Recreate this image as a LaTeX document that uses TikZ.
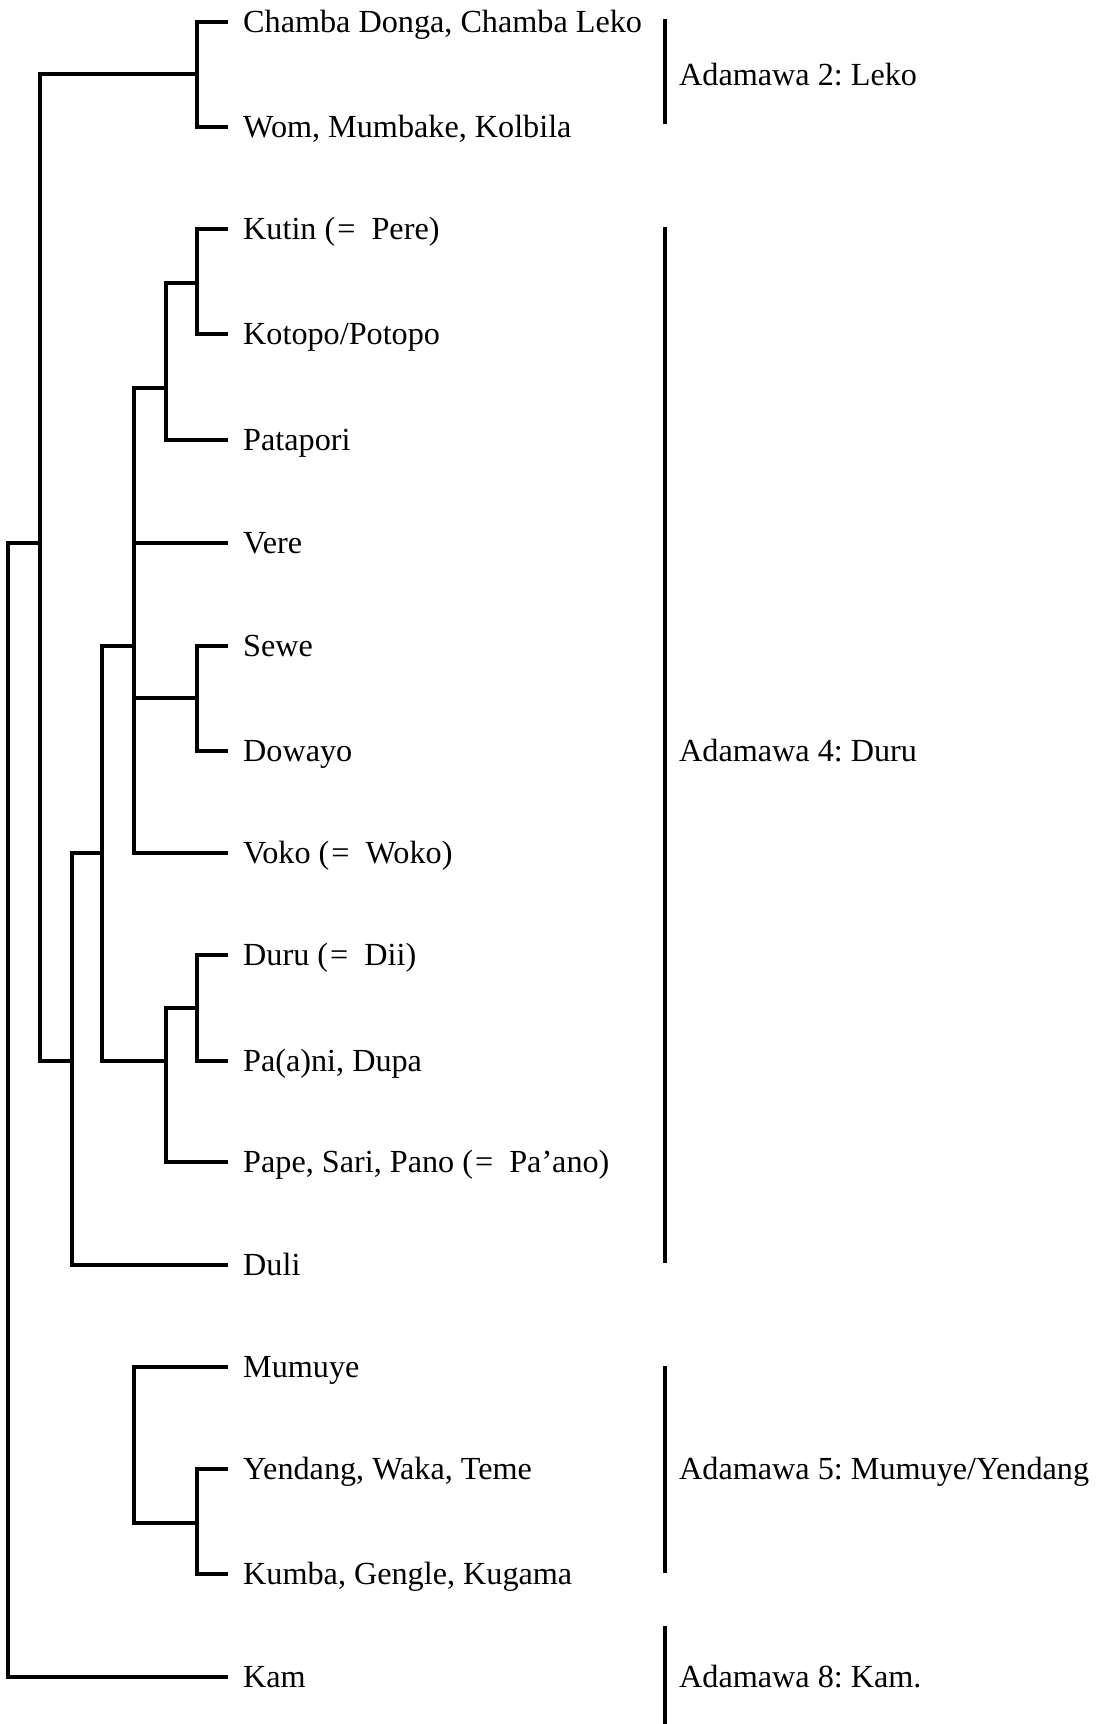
\documentclass[tikz,border=0pt]{standalone}
\usepackage{fontspec}
\setmainfont{Liberation Serif}
\frenchspacing

\begin{document}
\begin{tikzpicture}[
    x=1pt, y=-1pt,
    font=\fontsize{32.2}{38}\selectfont,
    leaf/.style={anchor=west, inner xsep=15pt, inner ysep=0pt, text height=29pt, text depth=7.7pt},
    grouplabel/.style={anchor=west, inner xsep=14pt, inner ysep=0pt, text height=29pt, text depth=7.7pt},
    branch/.style={line width=4pt},
    groupbar/.style={line width=4.3pt}
]
\useasboundingbox (0,0) rectangle (1102,1724);

% languages
\foreach \name/\y/\txt in {
    chamba/22/{Chamba Donga, Chamba Leko},
    wom/127/{Wom, Mumbake, Kolbila},
    kutin/229/{Kutin (\kern2pt=\ \ Pere)},
    kotopo/334/{Kotopo/Potopo},
    patapori/440/{Patapori},
    vere/543/{Vere},
    sewe/646/{Sewe},
    dowayo/751/{Dowayo},
    voko/853/{Voko (\kern2pt=\ \ Woko)},
    duru/955/{Duru (\kern2pt=\ \ Dii)},
    paani/1061/{Pa(a)ni, Dupa},
    pape/1162/{Pape, Sari, Pano (\kern2pt=\ \ Pa’ano)},
    duli/1265/{Duli},
    mumuye/1367/{Mumuye},
    yendang/1469/{Yendang, Waka, Teme},
    kumba/1574/{Kumba, Gengle, Kugama},
    kam/1677/{Kam}}
    \node[leaf] (\name) at (228,\y) {\txt};

% branching points
\coordinate (lekoj) at (197,74);
\coordinate (kutinj) at (197,283);
\coordinate (kotopoj) at (166,388);
\coordinate (sewej) at (197,698);
\coordinate (vokoj) at (134,646);
\coordinate (duruj) at (197,1008);
\coordinate (papej) at (166,1061);
\coordinate (duruclj) at (102,853);
\coordinate (dulij) at (72,1061);
\coordinate (mainj) at (40,543);
\coordinate (rootj) at (8,1110);
\coordinate (mumuyej) at (134,1445);
\coordinate (yendangj) at (197,1523);

% tree
\foreach \a/\b in {
    lekoj/chamba.west, lekoj/wom.west,
    kutinj/kutin.west, kutinj/kotopo.west,
    kotopoj/kutinj, kotopoj/patapori.west,
    sewej/sewe.west, sewej/dowayo.west,
    vokoj/kotopoj, vokoj/vere.west, vokoj/sewej, vokoj/voko.west,
    duruj/duru.west, duruj/paani.west,
    papej/duruj, papej/pape.west,
    duruclj/vokoj, duruclj/papej,
    dulij/duruclj, dulij/duli.west,
    mainj/lekoj, mainj/dulij,
    rootj/mainj, rootj/kam.west,
    mumuyej/mumuye.west, mumuyej/yendangj,
    yendangj/yendang.west, yendangj/kumba.west}
    \draw[branch] (\a) |- (\b);

% groups
\node[grouplabel] (adam2) at (665,74.5) {Adamawa 2: Leko};
\node[grouplabel] (adam4) at (665,751) {Adamawa 4: Duru};
\node[grouplabel] (adam5) at (665,1469) {Adamawa 5: Mumuye/Yendang};
\node[grouplabel] (adam8) at (665,1677) {Adamawa 8: Kam.};

\draw[groupbar] (665,19) -- (665,124);
\draw[groupbar] (665,227) -- (665,1263);
\draw[groupbar] (665,1366) -- (665,1573);
\draw[groupbar] (665,1626) -- (665,1724);

\end{tikzpicture}
\end{document}
